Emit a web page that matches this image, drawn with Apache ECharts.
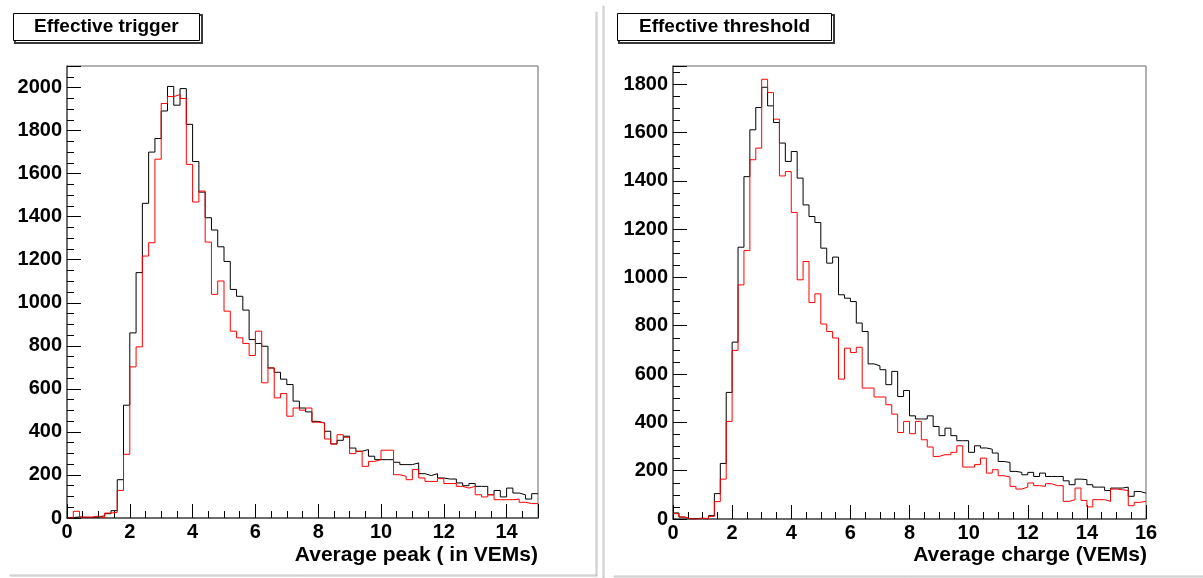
<!DOCTYPE html>
<html>
<head>
<meta charset="utf-8">
<script src="https://cdn.jsdelivr.net/npm/echarts@6/dist/echarts.min.js"></script>
<style>
  html, body { margin: 0; padding: 0; background: #fff; }
  #main { width: 1203px; height: 578px; }
</style>
</head>
<body>
<div id="main"></div>
<script>
var chart = echarts.init(document.getElementById('main'), null, { renderer: 'canvas' });

// bin width 0.2, left histogram 0..15, right one 0..16
var binWidth = 0.2;

// Effective trigger : black = all, red = selected
var peakBlack = [
  2, 5, 3, 3, 5, 10, 20, 34, 178, 524,
  860, 1140, 1462, 1700, 1763, 1891, 2005, 1918, 1995, 1829,
  1656, 1514, 1395, 1338, 1260, 1192, 1062, 1030, 966, 829,
  811, 798, 697, 677, 645, 620, 543, 511, 493, 449,
  442, 403, 344, 361, 380, 325, 310, 318, 287, 271,
  271, 271, 259, 248, 248, 256, 206, 197, 206, 186,
  181, 181, 163, 150, 160, 147, 147, 108, 128, 98,
  139, 116, 108, 88, 113
];
var peakRed = [
  0, 31, 4, 4, 9, 0, 23, 26, 128, 296,
  702, 795, 1217, 1279, 1667, 1926, 1958, 1967, 1949, 1643,
  1468, 1519, 1282, 1039, 1101, 961, 868, 837, 811, 755,
  868, 628, 697, 558, 578, 473, 511, 501, 511, 445,
  442, 367, 344, 387, 375, 299, 310, 240, 263, 271,
  315, 315, 201, 194, 178, 225, 186, 170, 170, 183,
  160, 160, 147, 139, 147, 108, 98, 108, 85, 85,
  85, 88, 73, 67, 67
];

// Effective threshold
var chargeBlack = [
  25, 8, 0, 2, 3, 0, 14, 105, 230, 524,
  732, 1125, 1417, 1611, 1703, 1787, 1710, 1641, 1556, 1480,
  1521, 1411, 1300, 1252, 1227, 1121, 1059, 1084, 928, 914,
  900, 811, 776, 642, 634, 618, 556, 611, 507, 532,
  427, 414, 414, 427, 383, 345, 376, 345, 324, 324,
  276, 303, 294, 289, 273, 238, 234, 197, 193, 183,
  193, 176, 190, 176, 176, 176, 158, 142, 165, 163,
  142, 132, 132, 118, 128, 128, 132, 94, 114, 107
];
var chargeRed = [
  22, 8, 0, 0, 3, 2, 11, 72, 165, 404,
  698, 969, 1111, 1487, 1535, 1820, 1765, 1655, 1420, 1438,
  1269, 990, 1066, 896, 932, 807, 776, 749, 579, 707,
  689, 711, 542, 542, 505, 505, 473, 434, 358, 404,
  353, 404, 328, 298, 259, 266, 266, 276, 303, 215,
  215, 225, 252, 190, 204, 179, 174, 135, 124, 132,
  149, 138, 135, 146, 138, 138, 73, 80, 128, 77,
  50, 80, 80, 73, 124, 121, 118, 55, 69, 73
];

var titles = ['Effective trigger', 'Effective threshold'];
var xNames = ['Average peak ( in VEMs)', 'Average charge (VEMs)'];

// histogram -> points at the bin low edges, plus the last high edge
function histPoints(vals) {
  var pts = vals.map(function (v, i) { return [Math.round(i * binWidth * 100) / 100, v]; });
  pts.push([Math.round(vals.length * binWidth * 100) / 100, vals[vals.length - 1]]);
  return pts;
}

function xAxisOf(grid, max) {
  return {
    type: 'value', gridIndex: grid, min: 0, max: max, interval: 2,
    axisLine: { show: true, lineStyle: { color: '#555', width: 1.5 } },
    axisTick: { show: true, inside: true, length: 14, lineStyle: { color: '#000', width: 1 } },
    minorTick: { show: true, splitNumber: 4, length: 7, lineStyle: { color: '#000', width: 1 } },
    axisLabel: { color: '#000', fontSize: 20, fontWeight: 'bold', margin: 4, showMinLabel: true,
      formatter: function (v) { return v % 2 === 0 ? String(v) : ''; } },
    splitLine: { show: false }
  };
}
function yAxisOf(grid, max) {
  return {
    type: 'value', gridIndex: grid, min: 0, max: max, interval: 200,
    axisLine: { show: true, lineStyle: { color: '#555', width: 1.5 } },
    axisTick: { show: true, inside: true, length: 14, lineStyle: { color: '#000', width: 1 } },
    minorTick: { show: true, splitNumber: 4, length: 7, lineStyle: { color: '#000', width: 1 } },
    axisLabel: { color: '#000', fontSize: 20, fontWeight: 'bold', margin: 5, showMinLabel: true,
      formatter: function (v) { return v % 200 === 0 ? String(v) : ''; } },
    splitLine: { show: false }
  };
}

function histSeries(vals, color, xi, yi) {
  return {
    type: 'line', step: 'end', xAxisIndex: xi, yAxisIndex: yi,
    symbol: 'none', silent: true,
    lineStyle: { color: color, width: 1 },
    data: histPoints(vals)
  };
}

// ROOT-like title boxes
function titleBox(left, text, padX) {
  return {
    text: text, left: left, top: 13, padding: [3, padX, 3, padX],
    backgroundColor: '#fff', borderColor: '#000', borderWidth: 1,
    textStyle: { color: '#000', fontSize: 19, fontWeight: 'bold', lineHeight: 22 }
  };
}
// plain rectangles drawn with grid borders (box shadows, pad edges)
function frameRect(left, top, width, height, color, w) {
  return { left: left, top: top, width: width, height: height, show: true, borderColor: color, borderWidth: w };
}

var option = {
  animation: false,
  backgroundColor: '#fff',
  title: [titleBox(13, titles[0], 21), titleBox(617, titles[1], 22)],
  grid: [
    { left: 67, top: 66, width: 471, height: 452, show: true, borderColor: '#666', borderWidth: 1 },
    { left: 673, top: 66, width: 473, height: 453, show: true, borderColor: '#666', borderWidth: 1 },
    // title box shadows
    frameRect(15, 15, 187, 28, '#3a3a3a', 2),
    frameRect(619, 15, 215, 28, '#3a3a3a', 2),
    // pad edges
    frameRect(596, 12, 1, 564, '#c4c4c4', 1),
    frameRect(10, 575, 587, 1, '#c4c4c4', 1),
    frameRect(603, 6, 1, 572, '#c4c4c4', 1),
    frameRect(614, 576, 589, 1, '#c4c4c4', 1)
  ],
  xAxis: [xAxisOf(0, 15), xAxisOf(1, 16)],
  yAxis: [yAxisOf(0, 2100), yAxisOf(1, 1875)],
  series: [
    histSeries(peakBlack, '#000000', 0, 0),
    histSeries(peakRed, '#ff0000', 0, 0),
    histSeries(chargeBlack, '#000000', 1, 1),
    histSeries(chargeRed, '#ff0000', 1, 1)
  ],
  graphic: [
    { type: 'text', x: 538, y: 545, style: { text: xNames[0], fill: '#000', font: 'bold 21px sans-serif', textAlign: 'right', align: 'right' } },
    { type: 'text', x: 1147, y: 545, style: { text: xNames[1], fill: '#000', font: 'bold 21px sans-serif', textAlign: 'right', align: 'right' } }
  ]
};

chart.setOption(option);
</script>
</body>
</html>
